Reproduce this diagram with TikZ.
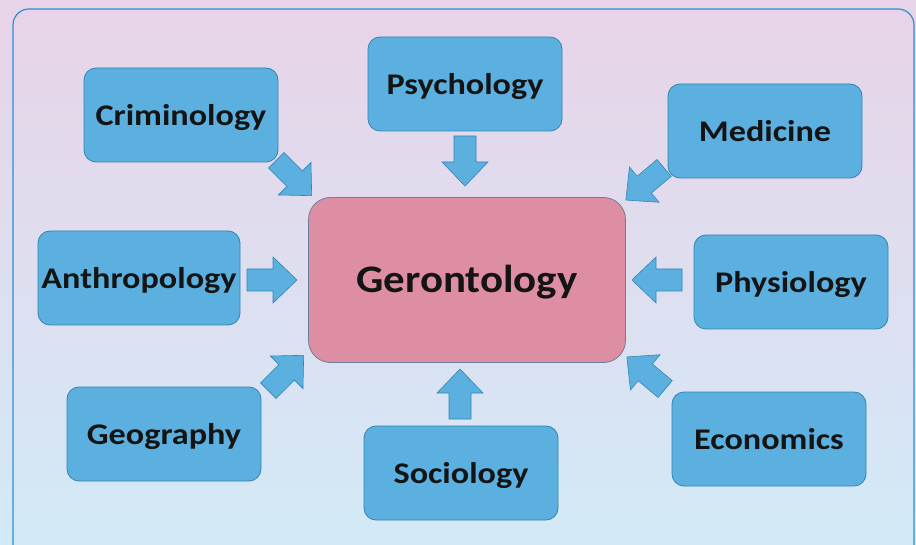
\documentclass[tikz,border=0pt]{standalone}
\usepackage{fontspec}
\setmainfont{Carlito}
\newfontfamily\labfont[FakeStretch=1.14]{Carlito}
\newfontfamily\centfont[FakeStretch=1.1]{Carlito}
\definecolor{bgtop}{HTML}{E9D3E8}
\definecolor{bgbot}{HTML}{D2EAF7}
\definecolor{framecol}{HTML}{2C90D2}
\definecolor{boxfill}{HTML}{5CB0E0}
\definecolor{boxline}{HTML}{3584B0}
\definecolor{centfill}{HTML}{DE8EA2}
\definecolor{centline}{HTML}{6E7D98}
\definecolor{txt}{HTML}{141414}
\begin{document}
\begin{tikzpicture}[x=1pt,y=-1pt,
  box/.style={draw=boxline, line width=0.8pt, fill=boxfill, rounded corners=12pt,
    minimum width=194pt, minimum height=94pt, inner sep=0pt, text=txt, text depth=0pt,
    font=\labfont\fontsize{30}{34}\selectfont\bfseries},
  centre/.style={draw=centline, line width=0.8pt, fill=centfill, rounded corners=22pt,
    minimum width=317pt, minimum height=165pt, inner sep=0pt, text=txt, text depth=3pt,
    font=\centfont\fontsize{39}{44}\selectfont\bfseries},
  blockarrow/.style={draw=boxline, line width=0.6pt, fill=boxfill}]
\useasboundingbox (0,0) rectangle (916,545);
\begin{scope}
\clip (0,0) rectangle (916,545);
\shade[top color=bgtop, bottom color=bgbot] (0,0) rectangle (916,545);
\draw[framecol, line width=1.2pt, rounded corners=16pt] (13,9) rectangle (914,590);
\end{scope}

\node[centre] (g) at (467,280) {Gerontology};
\node[box] (crim) at (181,115) {Criminology};
\node[box] (psy) at (465,84) {Psychology};
\node[box] (med) at (765,131) {Medicine};
\node[box, minimum width=202pt] (anth) at (139,278) {Anthropology};
\node[box] (phys) at (791,282) {Physiology};
\node[box] (geo) at (164,434) {Geography};
\node[box] (soc) at (461,473) {Sociology};
\node[box] (eco) at (769,439) {Economics};

\newcommand{\blockarr}[3]{%
  \begin{scope}[shift={(#1,#2)}, rotate=#3]
    \draw[blockarrow] (-25,-11) -- (1,-11) -- (1,-23) -- (25,0) -- (1,23) -- (1,11) -- (-25,11) -- cycle;
  \end{scope}}
\blockarr{294}{178}{-45}
\blockarr{465}{161}{-90}
\blockarr{645}{184}{-140}
\blockarr{272}{280}{0}
\blockarr{657}{280}{180}
\blockarr{286}{373}{45}
\blockarr{460}{394}{90}
\blockarr{646}{373}{140}
\end{tikzpicture}
\end{document}
